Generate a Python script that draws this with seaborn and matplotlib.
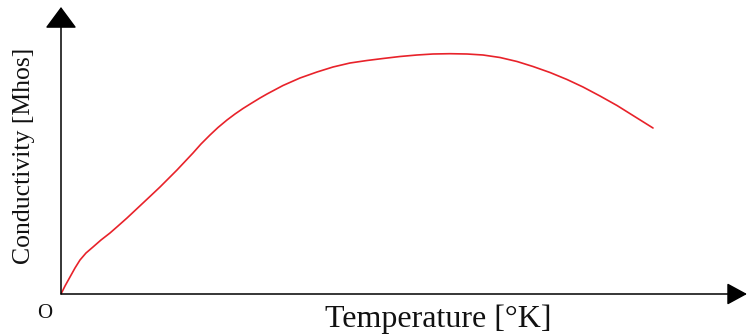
import matplotlib
matplotlib.use("Agg")
import matplotlib.pyplot as plt
import seaborn as sns
import pandas as pd

# Conductivity vs temperature (arbitrary units)
temperature = [0, 4, 9, 14, 19, 25, 32, 40, 49, 57, 66, 74, 82, 90, 99, 107,
               116, 124, 132, 140, 149, 157, 166, 174, 182, 190, 199, 206,
               222, 239, 256, 272, 289, 306, 322, 339, 356, 372, 389, 406,
               422, 439, 456, 472, 489, 506, 522, 539, 556, 572, 592]
conductivity = [0, 8, 17, 26, 34, 41, 47, 54, 61, 68, 76, 83.5, 91, 98.5,
                107, 115, 124, 132.5, 141, 150, 159, 166.5, 174, 180, 185.5,
                190.5, 196, 200, 208.5, 216, 222, 227, 231, 233.5, 235.5,
                237.5, 239, 240, 240.3, 240, 239, 236.5, 232.5, 227.5, 221.5,
                214.5, 207, 198, 188.5, 178.5, 166]

x_label = "Temperature [°K]"
y_label = "Conductivity [Mhos]"
origin_label = "O"

sns.set_style("white")
plt.rcParams["font.family"] = ["Liberation Serif", "DejaVu Serif"]

W, H = 748, 335
fig = plt.figure(figsize=(W / 100, H / 100), dpi=100)
ax = fig.add_axes([61 / W, 41 / H, 687 / W, 287 / H])
ax.set_xlim(0, 687)
ax.set_ylim(0, 287)
ax.axis("off")

df = pd.DataFrame({"T": temperature, "C": conductivity})
sns.lineplot(data=df, x="T", y="C", ax=ax, color="#e8222a",
             linewidth=1.2, sort=False, estimator=None)
for ln in ax.get_lines():
    ln.set_solid_joinstyle("round")

# Axes drawn as arrows from the origin
ax.annotate("", xy=(0, 1), xytext=(0, 0), xycoords="axes fraction",
            textcoords="axes fraction",
            arrowprops=dict(arrowstyle="-|>,head_length=13.5,head_width=10",
                            mutation_scale=1, lw=1.1, color="black",
                            shrinkA=0, shrinkB=0), annotation_clip=False)
ax.annotate("", xy=(686 / 687, 0), xytext=(0, 0), xycoords="axes fraction",
            textcoords="axes fraction",
            arrowprops=dict(arrowstyle="-|>,head_length=12.5,head_width=6.8",
                            mutation_scale=1, lw=1.1, color="black",
                            shrinkA=0, shrinkB=0), annotation_clip=False)

fig.text(438 / W, 8 / H, x_label, ha="center", va="baseline", fontsize=23,
         color="#111111")
fig.text(24 / W, (H - 156) / H, y_label, ha="center", va="center",
         rotation=90, fontsize=18.5, color="#111111")
fig.text(45 / W, (H - 314) / H, origin_label, ha="center", va="center",
         fontsize=15, color="#111111")

fig.savefig("out.png", dpi=100, facecolor="white")
